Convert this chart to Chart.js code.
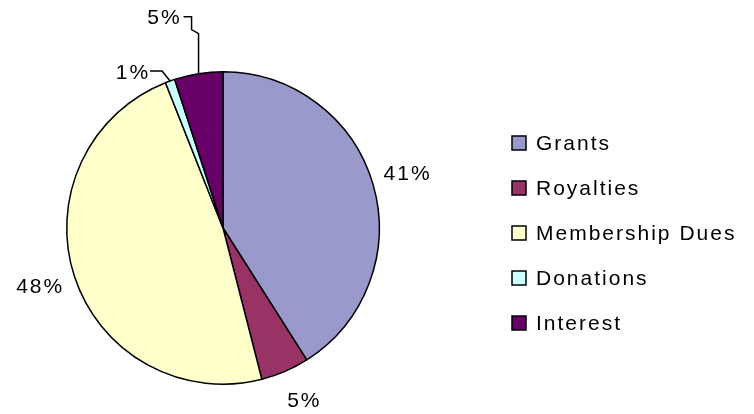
<!DOCTYPE html>
<html>
<head>
<meta charset="utf-8">
<script src="https://cdn.jsdelivr.net/npm/chart.js@4.4.0/dist/chart.umd.min.js"></script>
<style>
  html, body { margin: 0; padding: 0; background: #fff; }
  #wrap { width: 754px; height: 414px; }
</style>
</head>
<body>
<div id="wrap"><canvas id="canva" width="754" height="414"></canvas></div>
<script>
const labels = ["Grants", "Royalties", "Membership Dues", "Donations", "Interest"];
const values = [41, 5, 48, 1, 5];
const valueLabels = ["41%", "5%", "48%", "1%", "5%"];
const colors = ["#9999CC", "#993366", "#FFFFCC", "#CCFFFF", "#660066"];

const FONT = "21px 'Liberation Sans', Arial, sans-serif";

// percent labels, small slices get a leader line
const pctLabels = {
  id: "pctLabels",
  afterDatasetsDraw(chart) {
    const c = chart.ctx;
    const arcs = chart.getDatasetMeta(0).data;
    c.save();
    c.font = FONT;
    c.letterSpacing = "2px";
    c.fillStyle = "#000";
    c.strokeStyle = "#000";
    c.lineWidth = 1.5;
    c.textBaseline = "middle";
    arcs.forEach((a, i) => {
      const mid = (a.startAngle + a.endAngle) / 2;
      const r = a.outerRadius;
      const px = a.x + r * Math.cos(mid);
      const py = a.y + r * Math.sin(mid);
      if (i === 3) {
        c.beginPath();
        c.moveTo(px, py);
        c.lineTo(px - 8, py - 10);
        c.lineTo(px - 20, py - 10);
        c.stroke();
        c.textAlign = "right";
        c.fillText(valueLabels[i], px - 20, py - 8);
      } else if (i === 4) {
        c.beginPath();
        c.moveTo(px, py);
        c.lineTo(px, py - 40);
        c.lineTo(px - 7, py - 44);
        c.lineTo(px - 7, py - 57);
        c.lineTo(px - 15, py - 57);
        c.stroke();
        c.textAlign = "right";
        c.fillText(valueLabels[i], px - 17, py - 55);
      } else {
        const rr = r + 36;
        c.textAlign = "center";
        c.fillText(valueLabels[i], a.x + rr * Math.cos(mid) + (i === 1 ? 5 : 0), a.y + rr * Math.sin(mid) - (i === 1 ? 3 : 0));
      }
    });
    c.restore();
  }
};

// legend on the right, Excel style
const sideLegend = {
  id: "sideLegend",
  afterDraw(chart) {
    const c = chart.ctx;
    c.save();
    c.font = FONT;
    c.letterSpacing = "2px";
    c.textBaseline = "middle";
    c.textAlign = "left";
    labels.forEach((lab, i) => {
      const y = 143 + i * 45;
      c.fillStyle = colors[i];
      c.fillRect(512, y - 7, 14, 14);
      c.strokeStyle = "#000";
      c.lineWidth = 1.5;
      c.strokeRect(512, y - 7, 14, 14);
      c.fillStyle = "#000";
      c.fillText(lab, 536, y + 1);
    });
    c.restore();
  }
};

new Chart(document.getElementById("canva"), {
  type: "pie",
  data: {
    labels: labels,
    datasets: [{
      data: values,
      backgroundColor: colors,
      borderColor: "#000",
      borderWidth: 1.5
    }]
  },
  options: {
    responsive: false,
    animation: false,
    layout: { padding: { left: 66, right: 374, top: 71, bottom: 29 } },
    plugins: {
      legend: { display: false },
      tooltip: { enabled: false }
    }
  },
  plugins: [pctLabels, sideLegend]
});
</script>
</body>
</html>
